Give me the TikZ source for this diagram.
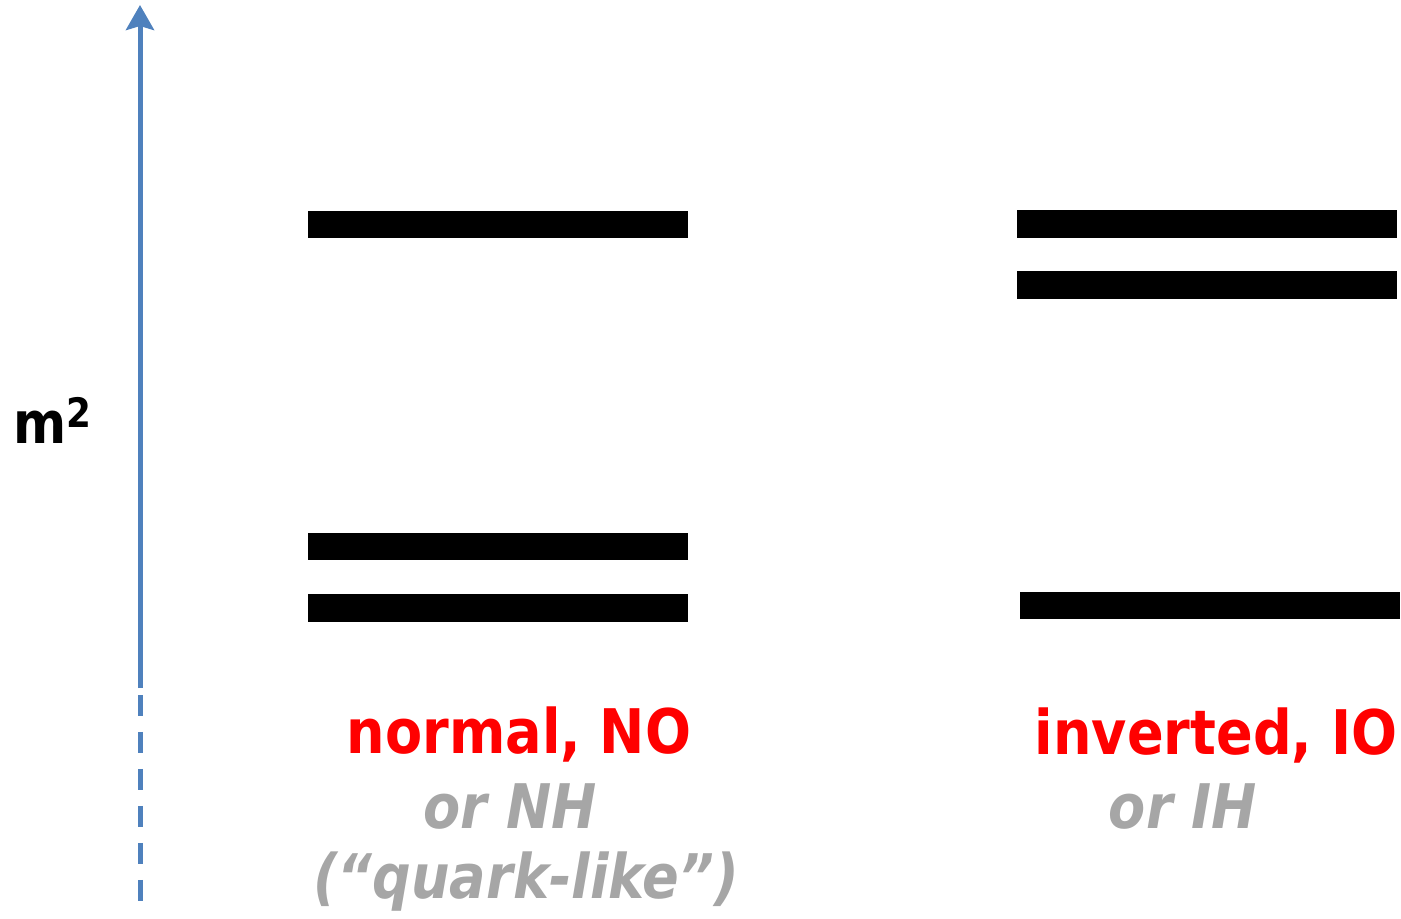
\documentclass[tikz,border=0pt]{standalone}
\usepackage{fontspec}
\setmainfont{DejaVu Sans}[FakeStretch=0.88]
\usetikzlibrary{arrows.meta,positioning}
\definecolor{axisblue}{RGB}{79,129,189}
\definecolor{labelgray}{RGB}{166,166,166}
\definecolor{labelred}{RGB}{255,0,0}
\begin{document}
\begin{tikzpicture}[x=0.02cm, y=-0.02cm,
    level/.style={fill=black, inner sep=0pt, minimum width=7.6cm, minimum height=0.56cm},
    axisline/.style={draw=axisblue, line width=0.1cm},
    ordering/.style={font=\fontsize{35}{40}\selectfont\bfseries, text=labelred, anchor=base, inner sep=0pt},
    alias/.style={font=\fontsize{35}{40}\selectfont\bfseries\itshape, text=labelgray, anchor=base, inner sep=0pt},
]
\useasboundingbox (0,0) rectangle (1401,919);

% mass axis
\coordinate (axtop) at (140,5);
\coordinate (axmid) at (140,688);
\coordinate (dashtop) at (140,695);
\coordinate (axbot) at (140,903);
\draw[axisline, -{Stealth[length=0.5cm, width=0.56cm, inset=0.08cm]}] (axmid) -- (axtop);
\draw[axisline, dash pattern=on 0.42cm off 0.32cm] (dashtop) -- (axbot);
\node[font=\fontsize{33}{36}\selectfont\bfseries, anchor=base west, inner sep=0pt] (msq) at (13,443) {m\textsuperscript{2}};

% normal ordering
\node[level] (no3) at (498,224.5) {};
\node[level] (no2) at (498,546.5) {};
\node[level] (no1) at (498,608) {};
\node[ordering] (nolabel) at (519,753) {normal, NO};
\node[alias] (nhlabel) at (510,828) {or NH};
\node[alias] (quark) at (526,898) {(“quark-like”)};

% inverted ordering
\node[level] (io2) at (1207,224) {};
\node[level] (io1) at (1207,285) {};
\node[level] (io3) at (1210,605.5) {};
\node[ordering] (iolabel) at (1216,754) {inverted, IO};
\node[alias] (ihlabel) at (1183,828) {or IH};
\end{tikzpicture}
\end{document}
